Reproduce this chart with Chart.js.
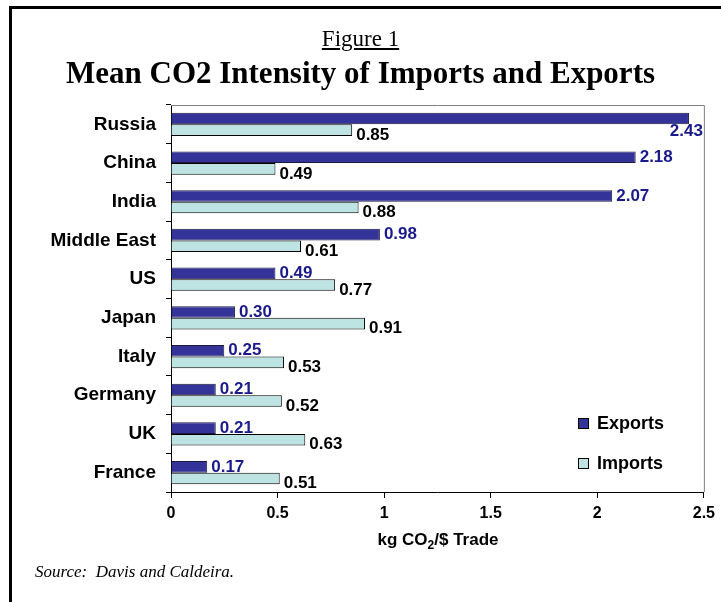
<!DOCTYPE html>
<html lang="en">
<head>
<meta charset="UTF-8" />
<title>Mean CO2 Intensity of Imports and Exports</title>
<script src="https://cdn.jsdelivr.net/npm/chart.js"></script>
<style>
body { margin: 0; background: #fff; }
.page { position: relative; width: 721px; height: 602px; overflow: hidden; }
.frame {
    position: absolute; left: 9px; top: 6px; width: 800px; height: 700px;
    border-left: 3px solid #000; border-top: 3px solid #000;
}
canvas { position: absolute; left: 0; top: 0; }
.fig { position: absolute; left: 0; width: 721px; top: 26px; text-align: center;
    font-family: "Liberation Serif", serif; font-size: 23px; }
.fig span { text-decoration: underline; }
.title { position: absolute; left: 0; width: 721px; top: 57px; text-align: center; line-height: 31px;
    font-family: "Liberation Serif", serif; font-size: 31px; font-weight: bold; }
.xtitle { position: absolute; left: 171px; width: 534px; top: 530px; text-align: center;
    font-family: "Liberation Sans", Arial, sans-serif; font-size: 17px; font-weight: bold; }
.xtitle sub { font-size: 12px; }
.source { position: absolute; left: 35px; top: 562px;
    font-family: "Liberation Serif", serif; font-size: 17px; font-style: italic; }
</style>
</head>
<body>
<div class="page">
<div class="frame"></div>
<canvas id="co2Chart" width="721" height="602"></canvas>
<div class="fig"><span>Figure 1</span></div>
<div class="title">Mean CO2 Intensity of Imports and Exports</div>
<div class="xtitle">kg CO<sub>2</sub>/$ Trade</div>
<div class="source">Source:&nbsp; Davis and Caldeira.</div>
</div>

<script>
// data
const regions = ['Russia', 'China', 'India', 'Middle East', 'US', 'Japan', 'Italy', 'Germany', 'UK', 'France'];
const exportsData = [2.43, 2.18, 2.07, 0.98, 0.49, 0.30, 0.25, 0.21, 0.21, 0.17];
const importsData = [0.85, 0.49, 0.88, 0.61, 0.77, 0.91, 0.53, 0.52, 0.63, 0.51];
const xTicks = [0, 0.5, 1, 1.5, 2, 2.5];

const navy = '#333399';
const pale = '#bde3e3';
const sans = '"Liberation Sans", Arial, sans-serif';

// value labels next to each bar
const barLabels = {
    id: 'barLabels',
    afterDatasetsDraw(chart) {
        const ctx = chart.ctx;
        const area = chart.chartArea;
        ctx.save();
        ctx.font = 'bold 17px ' + sans;
        ctx.textBaseline = 'middle';
        chart.data.datasets.forEach((ds, i) => {
            chart.getDatasetMeta(i).data.forEach((bar, j) => {
                const txt = ds.data[j].toFixed(2);
                const w = ctx.measureText(txt).width;
                ctx.fillStyle = i === 0 ? '#1a1a8c' : '#000';
                let x = bar.x + 4, y = i === 0 ? bar.y : bar.y + 5;
                ctx.textAlign = 'left';
                if (x + w > area.right) {
                    ctx.textAlign = 'right';
                    x = area.right - 1;
                    y = bar.y + 13;
                }
                ctx.fillText(txt, x, y);
            });
        });
        ctx.restore();
    }
};

// grey frame on top and right of the plot + legend box
const plotFrame = {
    id: 'plotFrame',
    beforeDatasetsDraw(chart) {
        const ctx = chart.ctx, a = chart.chartArea;
        ctx.save();
        ctx.strokeStyle = '#808080';
        ctx.lineWidth = 1;
        ctx.beginPath();
        ctx.moveTo(a.left, a.top + 0.5);
        ctx.lineTo(a.right + 0.5, a.top + 0.5);
        ctx.lineTo(a.right + 0.5, a.bottom);
        ctx.stroke();
        ctx.restore();
    },
    afterDraw(chart) {
        const ctx = chart.ctx;
        const items = [['Exports', navy, 423], ['Imports', pale, 463]];
        ctx.save();
        ctx.font = 'bold 18px ' + sans;
        ctx.textBaseline = 'middle';
        items.forEach(([name, col, y]) => {
            ctx.fillStyle = col;
            ctx.fillRect(578, y - 5, 11, 11);
            ctx.strokeStyle = '#000';
            ctx.strokeRect(578.5, y - 4.5, 10, 10);
            ctx.fillStyle = '#000';
            ctx.fillText(name, 597, y + 1);
        });
        ctx.restore();
    }
};

new Chart(document.getElementById('co2Chart'), {
    type: 'bar',
    data: {
        labels: regions,
        datasets: [
            { label: 'Exports', data: exportsData, backgroundColor: navy, borderColor: '#1a1a40', borderWidth: 1 },
            { label: 'Imports', data: importsData, backgroundColor: pale, borderColor: '#000', borderWidth: 1 }
        ]
    },
    options: {
        indexAxis: 'y',
        responsive: false,
        animation: false,
        categoryPercentage: 0.6,
        barPercentage: 1.0,
        layout: { padding: { top: 105, right: 16, bottom: 70, left: 0 } },
        plugins: {
            legend: { display: false },
            tooltip: { enabled: false }
        },
        scales: {
            x: {
                min: 0, max: 2.5,
                afterBuildTicks: s => { s.ticks = xTicks.map(v => ({ value: v })); },
                afterFit: s => { s.height = 40; },
                grid: { drawOnChartArea: false, tickLength: 6, color: '#000' },
                border: { color: '#000', width: 1 },
                ticks: {
                    color: '#000', font: { family: sans, size: 16, weight: 'bold' }, padding: 6, maxRotation: 0,
                    callback: v => String(v)
                }
            },
            y: {
                afterFit: s => { s.width = 171; },
                grid: { offset: true, drawOnChartArea: false, tickLength: 5, color: '#000' },
                border: { color: '#000', width: 1 },
                ticks: { color: '#000', font: { family: sans, size: 19, weight: 'bold' }, padding: 10 }
            }
        }
    },
    plugins: [barLabels, plotFrame]
});
</script>
</body>
</html>
